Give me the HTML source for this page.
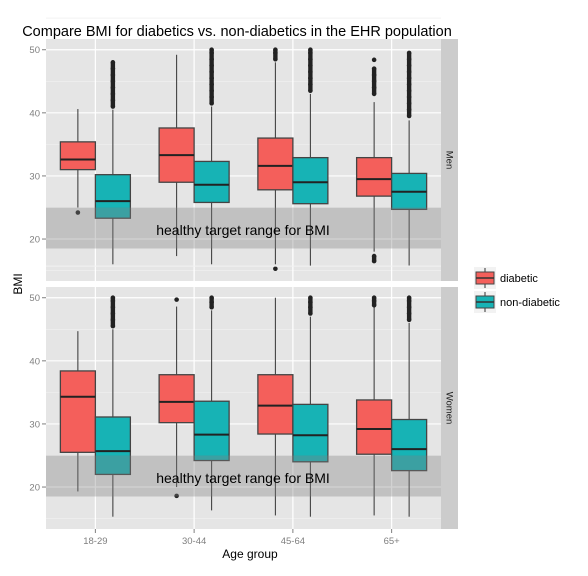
<!DOCTYPE html>
<html><head><meta charset="utf-8"><style>
body{margin:0;background:#fff;font-family:"Liberation Sans",sans-serif}
</style></head><body>
<svg id="chart" width="588" height="571" xmlns="http://www.w3.org/2000/svg">
<text x="237" y="36" font-size="14.5" text-anchor="middle" fill="#000">Compare BMI for diabetics vs. non-diabetics in the EHR population</text>
<text x="250" y="558" font-size="12" text-anchor="middle">Age group</text>
<text transform="translate(22,284) rotate(-90)" font-size="12" text-anchor="middle">BMI</text>
<g id="panels"></g>
<g>
<rect x="474" y="267" width="22" height="22" fill="#f2f2f2"/>
<line x1="485" y1="268" x2="485" y2="288" stroke="#333"/>
<rect x="476" y="272" width="18" height="12" fill="#F45F5B" stroke="#444"/>
<line x1="476" y1="278" x2="494" y2="278" stroke="#333" stroke-width="1.5"/>
<text x="500" y="282" font-size="11">diabetic</text>
<rect x="474" y="291" width="22" height="22" fill="#f2f2f2"/>
<line x1="485" y1="292" x2="485" y2="312" stroke="#333"/>
<rect x="476" y="296" width="18" height="12" fill="#17B3B5" stroke="#444"/>
<line x1="476" y1="302" x2="494" y2="302" stroke="#333" stroke-width="1.5"/>
<text x="500" y="306" font-size="11">non-diabetic</text>
</g>
</svg>
<script>
const categories = ["18-29","30-44","45-64","65+"];
const panels = ["Men","Women"];
const yTicks = [20,30,40,50];
// [low whisker, Q1, median, Q3, high whisker]
const menDiab = [[25,31.0,32.6,35.4,40.6],[17.3,29,33.3,37.6,49.2],[16,27.8,31.6,36,48],[18,26.8,29.5,32.9,41.7]];
const menNon = [[16,23.3,26,30.2,40.5],[16,25.8,28.6,32.3,41],[15.7,25.6,29,32.9,43],[15.8,24.7,27.5,30.4,38.8]];
const womenDiab = [[19.3,25.5,34.3,38.4,44.7],[20,30.2,33.5,37.8,48.6],[15.5,28.4,32.9,37.8,50],[15.5,25.2,29.2,33.8,48.5]];
const womenNon = [[15.3,22,25.7,31.1,45],[16.3,24.2,28.3,33.6,48],[15.3,24,28.2,33.1,47],[15.3,22.6,26,30.7,46]];
const menDiabOut = [[24.2],[],[15.3,48.5,49.5,50],[17.3,16.5,43,44,45,46,47,48.4]];
const menNonOut = [[41,42,43,44,45,46,47,48],[41.5,42.5,43.5,44.5,45.5,46.5,47.5,48.5,49.5,50],[43.5,44.5,45.5,46.5,47.5,48.5,49.5,50],[39.5,40.5,41.5,42.5,43.5,44.5,45.5,46.5,47.5,48.5,49.5]];
const womenDiabOut = [[],[18.6,49.7],[],[48.8,49.5,50]];
const womenNonOut = [[45.5,46.5,47.5,48.5,49.5,50],[48.5,49.3,50],[47.5,48.5,49.3,50],[46.5,47.5,48.5,49.5,50]];
const bandLo = 18.5, bandHi = 25;

const NS="http://www.w3.org/2000/svg";
const svg=document.getElementById('panels');
const pLeft=46,pRight=441,stripW=17;
const panelTops=[39,287],panelH=242;
const yMin=13.35,yMax=51.7;
function mk(tag,attrs,parent){const e=document.createElementNS(NS,tag);for(const k in attrs)e.setAttribute(k,attrs[k]);(parent||svg).appendChild(e);return e;}
function xPos(i){return pLeft+(pRight-pLeft)*(i+0.5)/categories.length;}
const boxW=35;
const allData=[[menDiab,menNon,menDiabOut,menNonOut],[womenDiab,womenNon,womenDiabOut,womenNonOut]];
panels.forEach((p,pi)=>{
  const top=panelTops[pi];
  const yPos=v=>top+panelH*(yMax-v)/(yMax-yMin);
  const g=mk('g',{});
  
  
  const bg=mk('rect',{x:pLeft,y:top,width:pRight-pLeft,height:panelH,fill:'#e5e5e5'},g);
  
  
  yTicks.forEach(t=>{
    mk('line',{x1:pLeft,x2:pRight,y1:yPos(t-5),y2:yPos(t-5),stroke:'#f2f2f2','stroke-width':0.6},g);
  });
  mk('line',{x1:pLeft,x2:pRight,y1:yPos(55),y2:yPos(55),stroke:'#f2f2f2'},g);
  yTicks.forEach(t=>{
    const y=yPos(t);
    const gl=mk('line',{x1:pLeft,x2:pRight,y1:y,y2:y,stroke:'#fff','stroke-width':1.2},g);
    
    
    mk('line',{x1:pLeft-4,x2:pLeft,y1:y,y2:y,stroke:'#7f7f7f'},g);
    const tx=mk('text',{x:pLeft-6,y:y+3.5,'font-size':9.5,fill:'#7f7f7f','text-anchor':'end'},g);
    tx.textContent=t;
    
    
  });
  categories.forEach((c,i)=>{
    const gl=mk('line',{x1:xPos(i),x2:xPos(i),y1:top,y2:top+panelH,stroke:'#fff','stroke-width':1.2},g);
    
    
  });
  const [dD,dN,oD,oN]=allData[pi];
  [[dD,oD,'#F45F5B',-1,'diabetic'],[dN,oN,'#17B3B5',0,'non-diabetic']].forEach(([arr,outs,col,off,nm])=>{
    arr.forEach((s,i)=>{
      const x0=xPos(i)+off*boxW, xc=x0+boxW/2;
      const bx=mk('g',{},g);
      
      
      mk('line',{x1:xc,x2:xc,y1:yPos(s[0]),y2:yPos(s[1]),stroke:'#333'},bx);
      mk('line',{x1:xc,x2:xc,y1:yPos(s[3]),y2:yPos(s[4]),stroke:'#333'},bx);
      mk('rect',{x:x0,y:yPos(s[3]),width:boxW,height:yPos(s[1])-yPos(s[3]),fill:col,stroke:'#444','stroke-width':1.3},bx);
      mk('line',{x1:x0,x2:x0+boxW,y1:yPos(s[2]),y2:yPos(s[2]),stroke:'#222','stroke-width':2},bx);
      outs[i].forEach(v=>{
        const pt=mk('circle',{cx:xc,cy:yPos(v),r:2.3,fill:'#222'},bx);
        
        
      });
      for(let k=1;k<outs[i].length;k++){
        if(Math.abs(outs[i][k]-outs[i][k-1])<=1.1){
          mk('line',{x1:xc,x2:xc,y1:yPos(outs[i][k]),y2:yPos(outs[i][k-1]),stroke:'#222','stroke-width':4.4},bx);
        }
      }
    });
  });
  const band=mk('rect',{x:pLeft,y:yPos(bandHi),width:pRight-pLeft,height:yPos(bandLo)-yPos(bandHi),fill:'#7f7f7f','fill-opacity':0.35},g);
  
  
  const bl=mk('text',{x:243,y:yPos(21.3)+4,'font-size':14,'text-anchor':'middle',fill:'#000'},g);
  bl.textContent='healthy target range for BMI';
  
  
  const st=mk('rect',{x:pRight,y:top,width:stripW,height:panelH,fill:'#cccccc'},g);
  
  
  const sl=mk('text',{'font-size':9.5,'text-anchor':'middle',fill:'#1a1a1a',transform:`translate(${pRight+stripW/2-3},${top+panelH/2}) rotate(90)`},g);
  sl.textContent=p;
  
  
});
categories.forEach((c,i)=>{
  const yb=panelTops[1]+panelH;
  mk('line',{x1:xPos(i),x2:xPos(i),y1:yb,y2:yb+4,stroke:'#7f7f7f'});
  const t=mk('text',{x:xPos(i),y:yb+15,'font-size':9.5,fill:'#7f7f7f','text-anchor':'middle'});
  t.textContent=c;
  
  
});
</script>
</body></html>
